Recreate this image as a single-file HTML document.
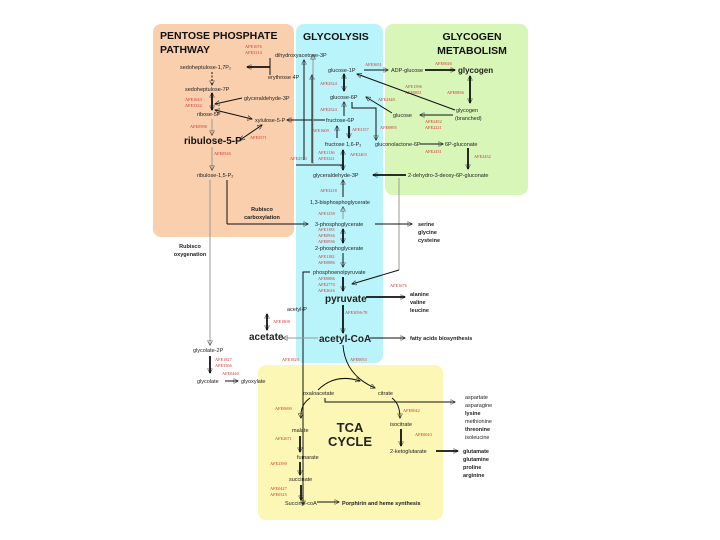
<!DOCTYPE html>
<html><head><meta charset="utf-8"><style>
body{margin:0;background:#fff}
svg{display:block}
text{font-family:"Liberation Sans",sans-serif;font-size:5.5px;fill:#222}
.r{fill:#d03030;font-size:4.3px;font-family:"Liberation Serif",serif}
.b{font-weight:bold}
.h{font-weight:bold;font-size:10.5px;fill:#111}
.m{font-weight:bold;font-size:10px;fill:#111}
line,path,polyline{stroke:#111;stroke-width:1;fill:none}
.g{stroke:#999}
.t{stroke-width:1.8}
</style></head><body>
<svg width="720" height="540" viewBox="0 0 720 540">
<defs><marker id="a" viewBox="0 0 10 10" refX="9" refY="5" markerWidth="5" markerHeight="5" markerUnits="userSpaceOnUse" orient="auto-start-reverse"><path d="M0,0L10,5L0,10z" fill="#111" stroke="none"/></marker></defs>
<rect x="153" y="24" width="141" height="213" rx="8" fill="#f9cfae"/>
<rect x="296" y="24" width="87" height="339" rx="8" fill="#baf4fb"/>
<rect x="385" y="24" width="143" height="171" rx="8" fill="#d8f6b8"/>
<rect x="258" y="365" width="185" height="155" rx="8" fill="#fcf7b4"/>

<text x="160" y="39" class="h">PENTOSE PHOSPHATE</text>
<text x="160" y="53" class="h">PATHWAY</text>
<text x="303" y="40" class="h">GLYCOLYSIS</text>
<text x="472" y="40" class="h" text-anchor="middle">GLYCOGEN</text>
<text x="472" y="54" class="h" text-anchor="middle">METABOLISM</text>

<text x="245" y="48" class="r">AFE1676</text><text x="245" y="54" class="r">AFE3314</text>
<text x="275" y="57">dihydroxyacetone-3P</text>
<text x="180" y="69">sedoheptulose-1,7P₂</text>
<text x="268" y="79">erythrose 4P</text>
<text x="185" y="91">sedoheptulose-7P</text>
<text x="185" y="101" class="r">AFE1643</text><text x="185" y="107" class="r">AFE3332</text>
<text x="244" y="100">glyceraldehyde-3P</text>
<text x="197" y="116">ribose-5P</text>
<text x="190" y="128" class="r">AFE0598</text>
<text x="255" y="122">xylulose-5-P</text>
<text x="184" y="144" class="m">ribulose-5-P</text>
<text x="250" y="139" class="r">AFE3571</text>
<text x="214" y="155" class="r">AFE0526</text>
<text x="197" y="177">ribulose-1,5-P₂</text>
<line x1="270" y1="58" x2="270" y2="75"/><line x1="270" y1="67" x2="247" y2="67" class="t" marker-end="url(#a)"/>
<line x1="212" y1="72" x2="212" y2="85" stroke-dasharray="2,1.5" marker-end="url(#a)"/>
<line x1="212" y1="93" x2="212" y2="110" class="t" marker-start="url(#a)" marker-end="url(#a)"/>
<line x1="242" y1="98" x2="215" y2="104" marker-end="url(#a)"/>
<line x1="215" y1="110" x2="252" y2="119" marker-start="url(#a)" marker-end="url(#a)"/>
<line x1="212" y1="119" x2="212" y2="135" class="g" marker-end="url(#a)"/>
<line x1="240" y1="140" x2="262" y2="125" marker-start="url(#a)" marker-end="url(#a)"/>
<line x1="212" y1="147" x2="212" y2="170" class="g" marker-end="url(#a)"/>
<line x1="210" y1="180" x2="210" y2="345" class="g" marker-end="url(#a)"/>
<line x1="227" y1="180" x2="227" y2="224"/><line x1="227" y1="224" x2="308" y2="224" marker-end="url(#a)"/>
<text x="262" y="211" class="b" text-anchor="middle">Rubisco</text><text x="262" y="219" class="b" text-anchor="middle">carboxylation</text>
<text x="190" y="248" class="b" text-anchor="middle">Rubisco</text><text x="190" y="256" class="b" text-anchor="middle">oxygenation</text>

<text x="328" y="72">glucose-1P</text>
<text x="365" y="66" class="r">AFE3651</text>
<text x="391" y="72">ADP-glucose</text>
<text x="435" y="65" class="r">AFE0026</text>
<text x="458" y="73" class="b" style="font-size:8px">glycogen</text>
<line x1="364" y1="70" x2="388" y2="70" marker-end="url(#a)"/>
<line x1="425" y1="70" x2="455" y2="70" class="t" marker-end="url(#a)"/>
<line x1="470" y1="76" x2="470" y2="103" class="t" marker-start="url(#a)" marker-end="url(#a)"/>
<text x="447" y="94" class="r">AFE0856</text>
<text x="405" y="88" class="r">AFE1596</text><text x="405" y="94" class="r">AFE0831</text>
<text x="456" y="112">glycogen</text><text x="455" y="120">(branched)</text>
<line x1="455" y1="110" x2="357" y2="74" marker-end="url(#a)"/>
<line x1="453" y1="115" x2="420" y2="115" marker-end="url(#a)"/>
<text x="393" y="117">glucose</text>
<text x="425" y="123" class="r">AFE2452</text><text x="425" y="129" class="r">AFE2221</text>
<line x1="392" y1="113" x2="366" y2="97" marker-end="url(#a)"/>
<text x="378" y="101" class="r">AFE2340</text>
<line x1="344" y1="74" x2="344" y2="91" class="t" marker-start="url(#a)" marker-end="url(#a)"/>
<text x="320" y="85" class="r">AFE2524</text>
<text x="330" y="99">glucose-6P</text>
<text x="320" y="111" class="r">AFE2524</text>
<line x1="344" y1="116" x2="344" y2="102" marker-end="url(#a)"/>
<polyline points="352,102 352,108 376,108 376,140" marker-end="url(#a)"/>
<text x="380" y="129" class="r">AFE0895</text>
<text x="326" y="122">fructose-6P</text>
<line x1="325" y1="120" x2="287" y2="120" marker-end="url(#a)"/>
<line x1="337" y1="138" x2="337" y2="126" marker-end="url(#a)"/>
<line x1="349" y1="126" x2="349" y2="138" class="t" marker-end="url(#a)"/>
<text x="312" y="132" class="r">AFE1609</text><text x="352" y="131" class="r">AFE3157</text>
<text x="325" y="146">fructose 1,6-P₂</text>
<text x="375" y="146">gluconolactone-6P</text>
<line x1="420" y1="144" x2="443" y2="144" marker-end="url(#a)"/>
<text x="445" y="146">6P-gluconate</text>
<text x="425" y="153" class="r">AFE2431</text>
<line x1="468" y1="148" x2="468" y2="169" class="t" marker-end="url(#a)"/>
<text x="474" y="158" class="r">AFE2432</text>
<text x="318" y="154" class="r">AFE1136</text><text x="318" y="160" class="r">AFE3321</text>
<text x="350" y="156" class="r">AFE2403</text><text x="290" y="160" class="r">AFE2573</text>
<line x1="343" y1="150" x2="343" y2="170" class="t" marker-start="url(#a)" marker-end="url(#a)"/>
<polyline points="304,160 304,60" marker-end="url(#a)"/>
<polyline points="312,163 312,75" marker-end="url(#a)"/>
<line x1="296" y1="165" x2="343" y2="165"/>
<line x1="313" y1="165" x2="313" y2="55" class="g" marker-end="url(#a)"/>
<text x="313" y="177">glyceraldehyde-3P</text>
<text x="408" y="177">2-dehydro-3-deoxy-6P-gluconate</text>
<line x1="406" y1="175" x2="373" y2="175" class="t" marker-end="url(#a)"/>
<line x1="399" y1="178" x2="399" y2="270" class="g"/>
<line x1="399" y1="270" x2="352" y2="284" marker-end="url(#a)"/>
<text x="320" y="192" class="r">AFE3218</text>
<line x1="343" y1="197" x2="343" y2="180" marker-end="url(#a)"/>
<text x="310" y="204">1,3-bisphosphoglycerate</text>
<text x="318" y="215" class="r">AFE1258</text>
<line x1="343" y1="219" x2="343" y2="207" class="g" marker-end="url(#a)"/>
<text x="315" y="226">3-phosphoglycerate</text>
<line x1="375" y1="224" x2="412" y2="224" marker-end="url(#a)"/>
<text x="418" y="226" class="b">serine</text><text x="418" y="234" class="b">glycine</text><text x="418" y="242" class="b">cysteine</text>
<text x="318" y="231" class="r">AFE1183</text><text x="318" y="237" class="r">AFE0936</text><text x="318" y="243" class="r">AFE0936</text>
<line x1="343" y1="229" x2="343" y2="243" class="t" marker-start="url(#a)" marker-end="url(#a)"/>
<text x="315" y="250">2-phosphoglycerate</text>
<text x="318" y="258" class="r">AFE1182</text><text x="318" y="264" class="r">AFE0886</text>
<line x1="343" y1="253" x2="343" y2="267" marker-end="url(#a)"/>
<text x="313" y="274">phosphoenolpyruvate</text>
<text x="318" y="280" class="r">AFE0886</text><text x="318" y="286" class="r">AFE2770</text><text x="318" y="292" class="r">AFE2616</text>
<text x="390" y="287" class="r">AFE1676</text>
<line x1="343" y1="277" x2="343" y2="291" class="t" marker-end="url(#a)"/>
<text x="325" y="302" class="b" style="font-size:10px">pyruvate</text>
<line x1="366" y1="297" x2="405" y2="297" class="t" marker-end="url(#a)"/>
<text x="410" y="296" class="b">alanine</text><text x="410" y="304" class="b">valine</text><text x="410" y="312" class="b">leucine</text>
<text x="345" y="314" class="r">AFE3056-78</text>
<line x1="343" y1="305" x2="343" y2="333" class="t" marker-end="url(#a)"/>
<polyline points="310,272 303,272 303,505" marker-end="url(#a)"/>
<text x="287" y="311">acetyl-P</text>
<line x1="267" y1="314" x2="267" y2="330" class="t" marker-start="url(#a)" marker-end="url(#a)"/>
<text x="273" y="323" class="r">AFE1808</text>
<text x="249" y="340" class="b" style="font-size:10px">acetate</text>
<text x="319" y="342" class="b" style="font-size:10px">acetyl-CoA</text>
<line x1="318" y1="338" x2="283" y2="338" class="g" marker-end="url(#a)"/>
<line x1="370" y1="338" x2="405" y2="338" marker-end="url(#a)"/>
<text x="410" y="340" class="b">fatty acids biosynthesis</text>
<text x="282" y="361" class="r">AFE1820</text><text x="350" y="361" class="r">AFE0053</text>
<path d="M343,345 Q345,375 375,388" marker-end="url(#a)"/>

<text x="193" y="352">glycolate-2P</text>
<line x1="210" y1="356" x2="210" y2="373" class="t" marker-end="url(#a)"/>
<text x="215" y="361" class="r">AFE1827</text><text x="215" y="367" class="r">AFE3566</text>
<text x="222" y="375" class="r">AFE0440</text>
<text x="197" y="383">glycolate</text>
<line x1="225" y1="381" x2="238" y2="381" marker-end="url(#a)"/>
<text x="241" y="383">glyoxylate</text>

<text x="303" y="395">oxaloacetate</text>
<text x="378" y="395">citrate</text>
<path d="M318,390 Q335,373 360,381" marker-end="url(#a)"/>
<polyline points="325,398 325,402 455,402" marker-end="url(#a)"/>
<text x="275" y="410" class="r">AFE0690</text>
<path d="M310,398 Q300,405 301,418" marker-end="url(#a)"/>
<text x="292" y="432">malate</text>
<text x="275" y="440" class="r">AFE2671</text>
<line x1="300" y1="436" x2="300" y2="452" class="t" marker-end="url(#a)"/>
<text x="297" y="459">fumarate</text>
<text x="270" y="465" class="r">AFE2390</text>
<line x1="300" y1="462" x2="300" y2="475" class="t" marker-end="url(#a)"/>
<text x="289" y="481">succinate</text>
<text x="270" y="490" class="r">AFE0427</text><text x="270" y="496" class="r">AFE0325</text>
<line x1="301" y1="485" x2="301" y2="500" class="t" marker-end="url(#a)"/>
<text x="285" y="505">Succinyl-coA</text>
<line x1="317" y1="502" x2="339" y2="502" marker-end="url(#a)"/>
<text x="342" y="505" class="b">Porphirin and heme synthesis</text>
<text x="350" y="432" class="b" text-anchor="middle" style="font-size:13px">TCA</text>
<text x="350" y="446" class="b" text-anchor="middle" style="font-size:13px">CYCLE</text>
<path d="M392,398 Q400,404 400,418" marker-end="url(#a)"/>
<text x="403" y="412" class="r">AFE0042</text>
<text x="390" y="426">isocitrate</text>
<line x1="401" y1="429" x2="401" y2="446" class="t" marker-end="url(#a)"/>
<text x="415" y="436" class="r">AFE0043</text>
<text x="390" y="453">2-ketoglutarate</text>
<line x1="436" y1="451" x2="458" y2="451" class="t" marker-end="url(#a)"/>
<text x="463" y="453" class="b">glutamate</text><text x="463" y="461" class="b">glutamine</text><text x="463" y="469" class="b">proline</text><text x="463" y="477" class="b">arginine</text>
<text x="465" y="399">aspartate</text><text x="465" y="407">asparagine</text><text x="465" y="415" class="b">lysine</text><text x="465" y="423">methionine</text><text x="465" y="431" class="b">threonine</text><text x="465" y="439">isoleucine</text>
</svg>
</body></html>
